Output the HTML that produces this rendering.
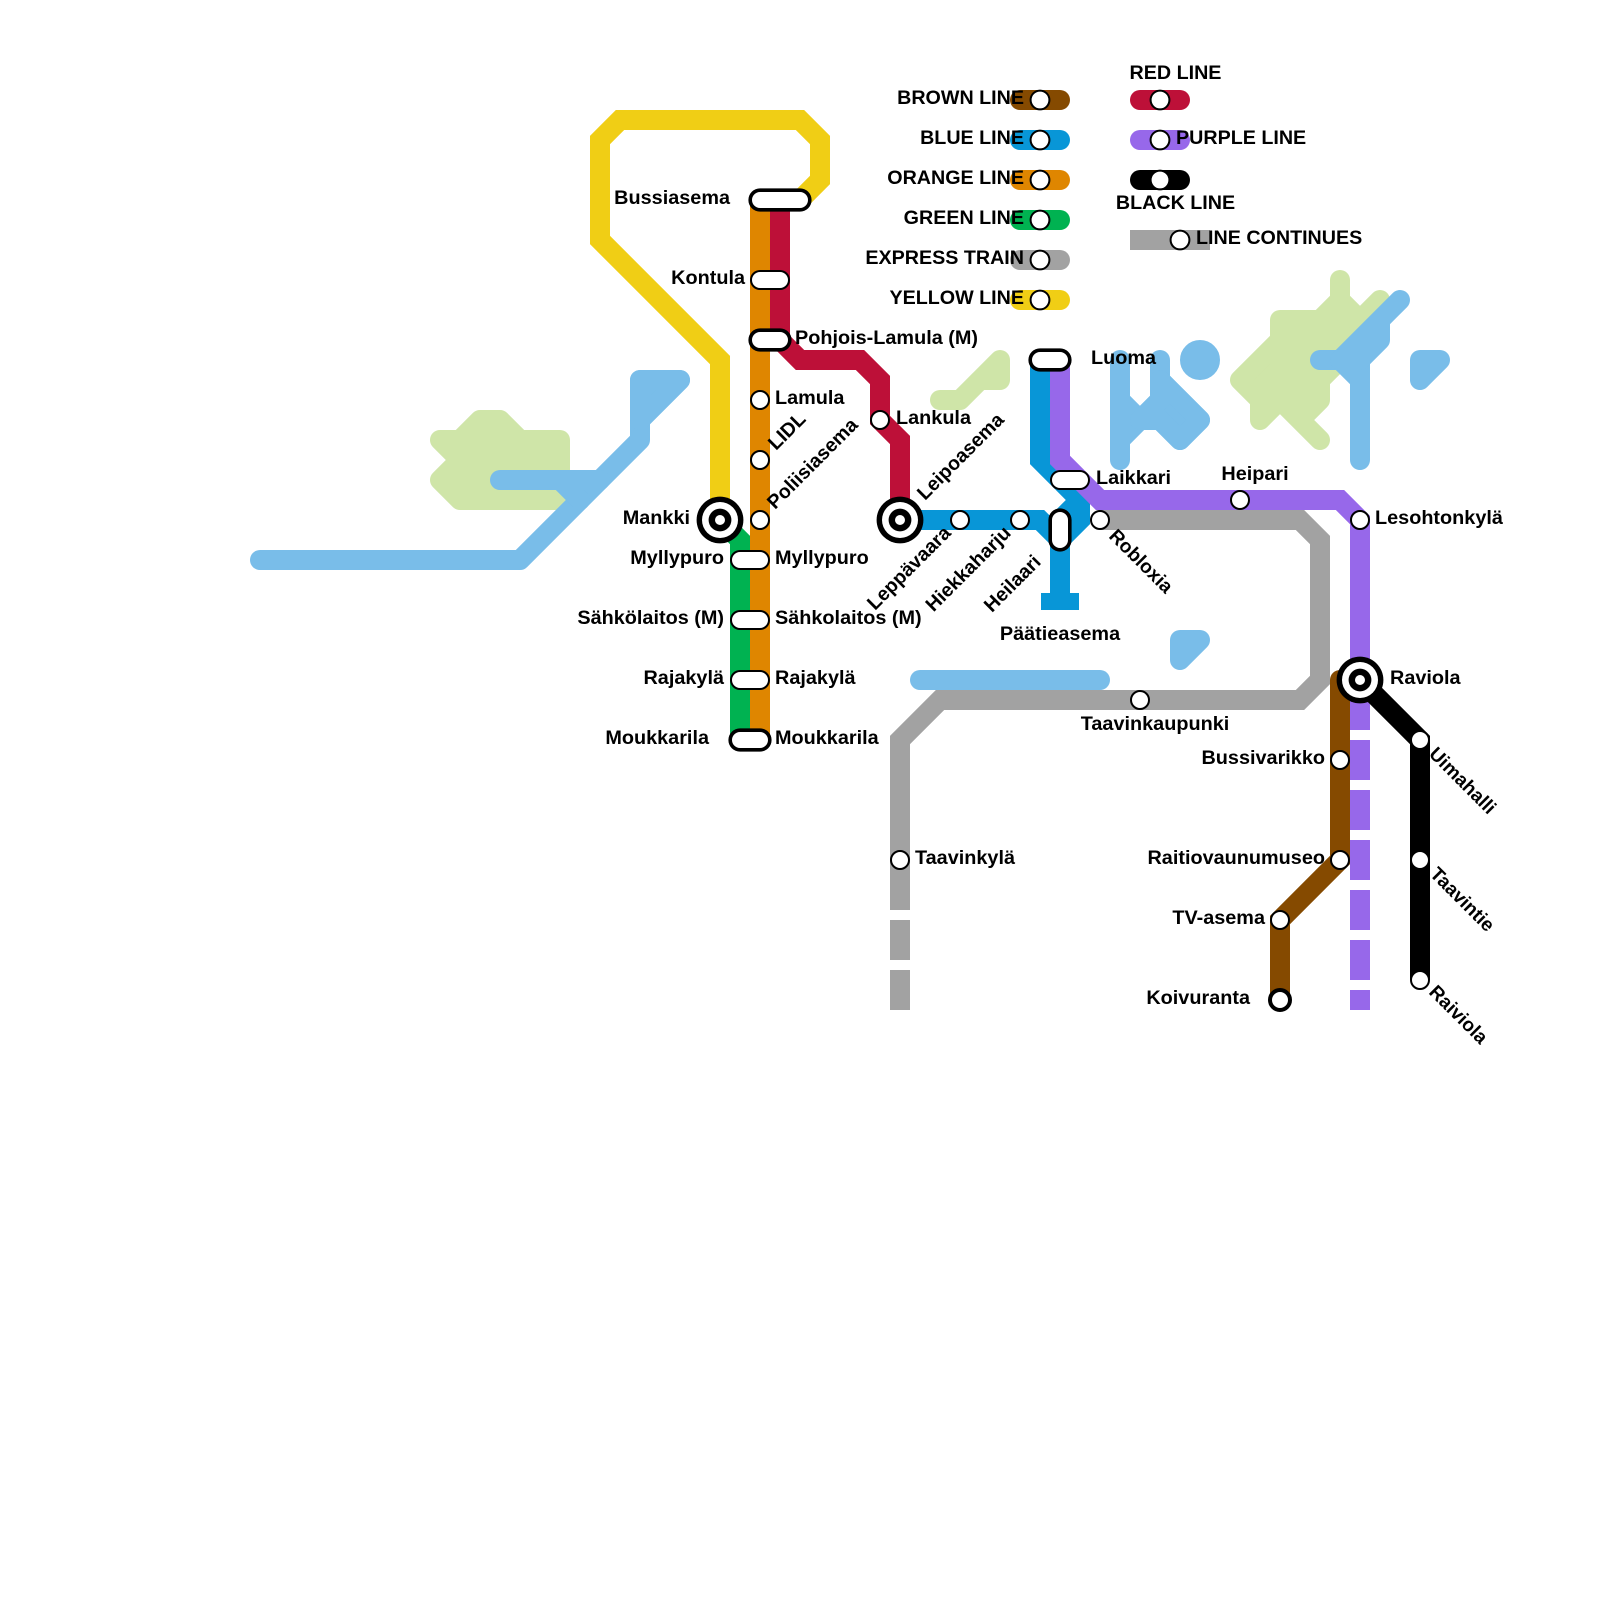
<!DOCTYPE html>
<html>
<head>
<meta charset="utf-8">
<style>
html,body{margin:0;padding:0;background:#fff}
svg{display:block}
text{font-family:"Liberation Sans",sans-serif;font-weight:bold;font-size:19.85px;fill:#000}
.e{text-anchor:end}
.m{text-anchor:middle}
.l{font-size:19.7px}
.r1{font-size:19.6px}
.r2{font-size:19.2px}
</style>
</head>
<body>
<svg width="1600" height="1600" viewBox="0 0 1600 1600" xmlns="http://www.w3.org/2000/svg">
<rect width="1600" height="1600" fill="#fff"/>
<g transform="scale(20)" fill="none" stroke-width="1">
  <!-- land -->
  <g stroke="#cfe5a8" fill="#cfe5a8" stroke-linejoin="round" stroke-linecap="round">
    <path d="M22 22H23L24 21H25L26 22H28V24L29 25H23L22 24L23 23Z"/>
    <path d="M47 20H48L50 18V19H49L48 20Z"/>
    <path d="M67 14V15L68 16L69 15L67 18L66 19V20L65 21L66 22L64 20L63 21V20L62 19L64 17V16H66L67 15Z"/>
  </g>
  <!-- water -->
  <g stroke="#79bde9" fill="none" stroke-linejoin="round" stroke-linecap="round">
    <path d="M13 28H26L32 22V19H34L32 21"/>
    <path d="M32 19H34L32 21Z" fill="#79bde9"/>
    <path d="M25 24H30M28 24L29 25"/>
    <path d="M46 34H55"/>
    <path d="M56 18V23M56 20L57 21L56 22M57 21L58 20V18M58 19L60 21L59 22L58 21H57" />
    <path d="M58 19L60 21L59 22L58 21H57L58 20Z" fill="#79bde9"/>
    <path d="M59 32H60L59 33Z" fill="#79bde9"/>
    <path d="M71 18H72L71 19Z" fill="#79bde9"/>
    <path d="M66 18H67L68 19V23M68 18V19"/>
    <path d="M67 18L70 15L69 16V17L68 18Z" fill="#79bde9"/>
    <circle cx="60" cy="18" r="0.5" fill="#79bde9"/>
  </g>
  <!-- lines -->
  <g stroke-linejoin="miter" stroke-miterlimit="10">
    <path d="M36 26V18L30 12V7L31 6H40L41 7V9L40 10" stroke="#f0ce15"/>
    <path d="M36 26L37 27V37" stroke="#00b251"/>
    <path d="M38 10V37" stroke="#df8600"/>
    <path d="M39 10V17L40 18H43L44 19V21L45 22V26" stroke="#bd1038"/>
    <path d="M45 26H52L53 27L54 26V25L52 23V18" stroke="#0896d7"/>
    <path d="M54 25L53 26V30" stroke="#0896d7"/>
    <rect x="52.05" y="29.65" width="1.9" height="0.85" fill="#0896d7" stroke="none"/>
    <path d="M53 18V23L55 25H67L68 26V34" stroke="#9768ea"/>
    <path d="M68 34V36.5M68 37V39M68 39.5V41.5M68 42V44M68 44.5V46.5M68 47V49M68 49.5V50.5" stroke="#9768ea"/>
    <path d="M55 26H65L66 27V34L65 35H47L45 37V45.5M45 46V48M45 48.5V50.5" stroke="#a2a2a2"/>
    <path d="M67 34V43L64 46V50" stroke="#854a00" stroke-linecap="round"/>
    <path d="M68 34L71 37V49" stroke="#000"/>
  </g>
  <!-- legend lines -->
  <g stroke-linecap="round">
    <path d="M51 5H53" stroke="#854a00"/>
    <path d="M51 7H53" stroke="#0896d7"/>
    <path d="M51 9H53" stroke="#df8600"/>
    <path d="M51 11H53" stroke="#00b251"/>
    <path d="M51 13H53" stroke="#a2a2a2"/>
    <path d="M51 15H53" stroke="#f0ce15"/>
    <path d="M57 5H59" stroke="#bd1038"/>
    <path d="M57 7H59" stroke="#9768ea"/>
    <path d="M57 9H59" stroke="#000"/>
  </g>
  <path d="M56.5 12H60.5" stroke="#a2a2a2"/>
  <!-- pills -->
  <g stroke-linecap="round">
    <!-- thick -->
    <path d="M38 10H40M38 17H39M37 37H38M52 18H53M53 26V27" stroke="#000" stroke-width="1.16"/>
    <path d="M38 10H40M38 17H39M37 37H38M52 18H53M53 26V27" stroke="#fff" stroke-width="0.8"/>
    <!-- thin -->
    <path d="M38 14H39M37 28H38M37 31H38M37 34H38M53 24H54" stroke="#000" stroke-width="1"/>
    <path d="M38 14H39M37 28H38M37 31H38M37 34H38M53 24H54" stroke="#fff" stroke-width="0.8"/>
  </g>
  <!-- stops -->
  <g fill="#fff" stroke="#000" stroke-width="0.1">
    <circle cx="52" cy="5" r="0.47"/><circle cx="52" cy="7" r="0.47"/><circle cx="52" cy="9" r="0.47"/>
    <circle cx="52" cy="11" r="0.47"/><circle cx="52" cy="13" r="0.47"/><circle cx="52" cy="15" r="0.47"/>
    <circle cx="58" cy="5" r="0.47"/><circle cx="58" cy="7" r="0.47"/><circle cx="58" cy="9" r="0.47"/>
    <circle cx="59" cy="12" r="0.47"/>
    <circle cx="38" cy="20" r="0.45"/><circle cx="38" cy="23" r="0.45"/><circle cx="38" cy="26" r="0.45"/>
    <circle cx="44" cy="21" r="0.45"/><circle cx="48" cy="26" r="0.45"/><circle cx="51" cy="26" r="0.45"/>
    <circle cx="55" cy="26" r="0.45"/><circle cx="62" cy="25" r="0.45"/><circle cx="68" cy="26" r="0.45"/>
    <circle cx="57" cy="35" r="0.45"/><circle cx="45" cy="43" r="0.45"/>
    <circle cx="67" cy="38" r="0.45"/><circle cx="67" cy="43" r="0.45"/><circle cx="64" cy="46" r="0.45"/>
    <circle cx="71" cy="37" r="0.45"/><circle cx="71" cy="43" r="0.45"/><circle cx="71" cy="49" r="0.45"/>
    <circle cx="64" cy="50" r="0.5" stroke-width="0.2"/>
  </g>
  <!-- interchanges -->
  <g stroke="none">
    <circle cx="36" cy="26" r="1.17" fill="#000"/><circle cx="36" cy="26" r="0.9" fill="#fff"/><circle cx="36" cy="26" r="0.57" fill="#000"/><circle cx="36" cy="26" r="0.25" fill="#fff"/>
    <circle cx="45" cy="26" r="1.17" fill="#000"/><circle cx="45" cy="26" r="0.9" fill="#fff"/><circle cx="45" cy="26" r="0.57" fill="#000"/><circle cx="45" cy="26" r="0.25" fill="#fff"/>
    <circle cx="68" cy="34" r="1.17" fill="#000"/><circle cx="68" cy="34" r="0.9" fill="#fff"/><circle cx="68" cy="34" r="0.57" fill="#000"/><circle cx="68" cy="34" r="0.25" fill="#fff"/>
  </g>
</g>
<!-- labels -->
<text class="e l" x="1024" y="104">BROWN LINE</text>
<text class="e l" x="1024" y="144">BLUE LINE</text>
<text class="e l" x="1024" y="184">ORANGE LINE</text>
<text class="e l" x="1024" y="224">GREEN LINE</text>
<text class="e l" x="1024" y="264">EXPRESS TRAIN</text>
<text class="e l" x="1024" y="304">YELLOW LINE</text>
<text class="m l" x="1175.5" y="79">RED LINE</text>
<text class="l" x="1176" y="144">PURPLE LINE</text>
<text class="m l" x="1175.5" y="209">BLACK LINE</text>
<text class="l" x="1196" y="244">LINE CONTINUES</text>

<text class="e" x="730" y="204">Bussiasema</text>
<text class="e" x="745" y="284">Kontula</text>
<text x="795" y="344">Pohjois-Lamula (M)</text>
<text x="775" y="404">Lamula</text>
<text class="r1" transform="translate(776 451) rotate(-45)">LIDL</text>
<text class="r1" transform="translate(775 510) rotate(-45)">Poliisiasema</text>
<text class="e" x="690" y="524">Mankki</text>
<text class="e" x="724" y="564">Myllypuro</text>
<text x="775" y="564">Myllypuro</text>
<text class="e" x="724" y="624">Sähkölaitos (M)</text>
<text x="775" y="624">Sähkolaitos (M)</text>
<text class="e" x="724" y="684">Rajakylä</text>
<text x="775" y="684">Rajakylä</text>
<text class="e" x="709" y="744">Moukkarila</text>
<text x="775" y="744">Moukkarila</text>
<text x="896" y="424">Lankula</text>
<text class="r1" transform="translate(925 501) rotate(-45)">Leipoasema</text>
<text class="e r1" transform="translate(952 534) rotate(-45)">Leppävaara</text>
<text class="e r1" transform="translate(1012 534) rotate(-45)">Hiekkaharju</text>
<text class="e r1" transform="translate(1042 563) rotate(-45)">Heilaari</text>
<text class="m" x="1060" y="640">Päätieasema</text>
<text x="1091" y="364">Luoma</text>
<text x="1096" y="484">Laikkari</text>
<text class="m" x="1255" y="480">Heipari</text>
<text x="1375" y="524">Lesohtonkylä</text>
<text class="r2" transform="translate(1108 537) rotate(45)">Robloxia</text>
<text x="915" y="864">Taavinkylä</text>
<text class="m" x="1155" y="730">Taavinkaupunki</text>
<text x="1390" y="684">Raviola</text>
<text class="e" x="1325" y="764">Bussivarikko</text>
<text class="e" x="1325" y="864">Raitiovaunumuseo</text>
<text class="e" x="1265" y="924">TV-asema</text>
<text class="e" x="1250" y="1004">Koivuranta</text>
<text class="r2" transform="translate(1428 755) rotate(45)">Uimahalli</text>
<text class="r2" transform="translate(1429 875) rotate(45)">Taavintie</text>
<text class="r2" transform="translate(1428 993) rotate(45)">Raiviola</text>
</svg>
</body>
</html>
